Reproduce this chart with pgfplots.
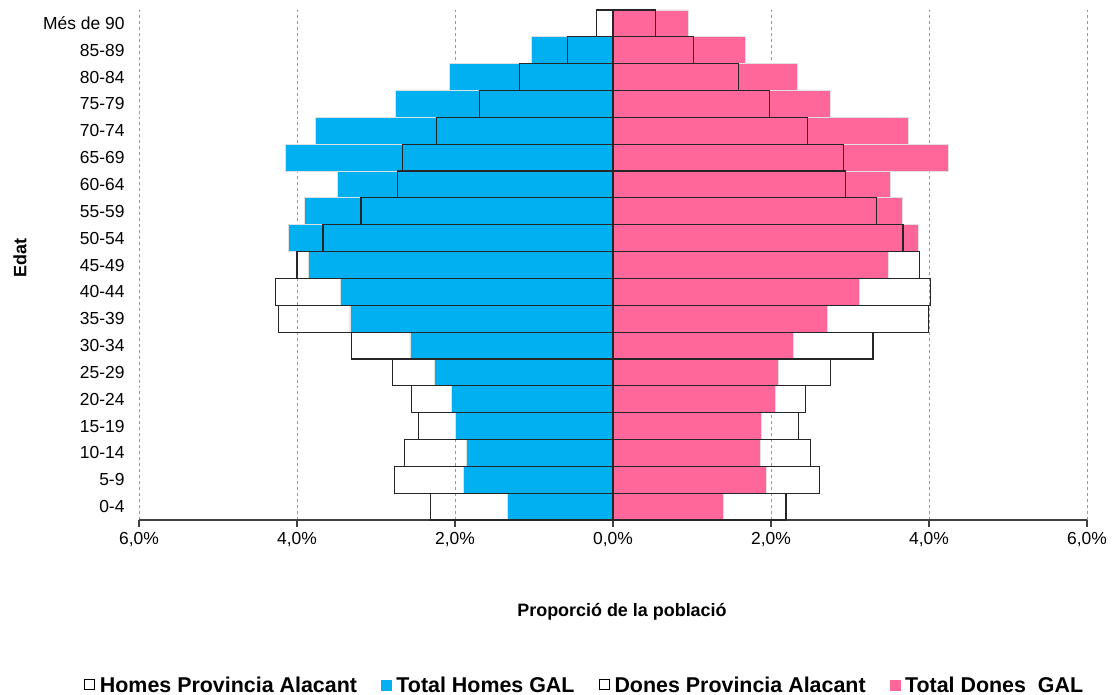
\documentclass[border=0pt]{standalone}
\usepackage{fontspec}
\setmainfont{Liberation Sans}
\usepackage{pgfplots}
\pgfplotsset{compat=1.18}
\usepackage{pgfplotstable}
\usetikzlibrary{calc}

\definecolor{homesgal}{HTML}{00B0F0}
\definecolor{donesgal}{HTML}{FF6699}

% y: 0 = 0-4 ... 18 = Més de 90; homes en negatiu
\pgfplotstableread{
y   hprov   hgal    dprov   dgal
0   -2.31   -1.34   2.19    1.40
1   -2.77   -1.89   2.61    1.94
2   -2.64   -1.86   2.50    1.86
3   -2.46   -1.99   2.35    1.88
4   -2.55   -2.05   2.44    2.05
5   -2.79   -2.26   2.75    2.09
6   -3.31   -2.57   3.29    2.28
7   -4.23   -3.33   3.99    2.72
8   -4.27   -3.45   4.02    3.12
9   -4.00   -3.85   3.88    3.48
10  -3.67   -4.11   3.67    3.86
11  -3.19   -3.90   3.34    3.66
12  -2.73   -3.49   2.94    3.51
13  -2.66   -4.15   2.92    4.24
14  -2.23   -3.77   2.46    3.74
15  -1.69   -2.75   1.98    2.75
16  -1.18   -2.07   1.59    2.33
17  -0.575  -1.03   1.02    1.67
18  -0.21   0       0.54    0.95
}\piramide

\begin{document}
\begin{tikzpicture}
\begin{axis}[
    scale only axis,
    width=948bp, height=510bp,
    xbar, bar width=1, bar shift=0pt,
    xmin=-6, xmax=6, ymin=-0.5, ymax=18.5,
    xtick={-6,-4,...,6},
    xticklabel={\pgfmathparse{abs(\tick)}\pgfmathprintnumber[fixed,fixed zerofill,precision=1,use comma]{\pgfmathresult}\%},
    /pgf/number format/assume math mode=true,
    ytick={0,...,18},
    yticklabels={0-4,5-9,10-14,15-19,20-24,25-29,30-34,35-39,40-44,45-49,50-54,55-59,60-64,65-69,70-74,75-79,80-84,85-89,{Més de 90}},
    separate axis lines,
    axis x line*=bottom,
    axis y line*=left,
    y axis line style={draw=none},
    ytick style={draw=none},
    x axis line style={black!75, line width=1.2bp},
    xtick style={black!75, line width=1.2bp},
    xtick align=outside,
    major tick length=7bp,
    xmajorgrids=true,
    grid style={dashed, black!40, line width=0.9bp},
    tick label style={font=\fontsize{17.5}{17.5}\selectfont},
    yticklabel style={xshift=-4bp},
    xticklabel style={yshift=-2bp},
    xlabel={Proporció de la població},
    xlabel style={font=\bfseries\fontsize{18}{18}\selectfont, at={(rel axis cs:0.5,0)}, anchor=center, yshift=-92bp, xshift=9bp},
    ylabel={Edat},
    ylabel style={font=\bfseries\fontsize{18}{18}\selectfont, at={(rel axis cs:-0.1255,0.514)}, anchor=center},
    legend columns=4,
    legend style={at={(0.47,-0.3235)}, anchor=center, draw=none,
        font=\bfseries\fontsize{21.5}{21.5}\selectfont,
        /tikz/every odd column/.append style={column sep=3bp},
        /tikz/every even column/.append style={column sep=22bp}},
    legend image code/.code={\draw[#1] (0bp,-5bp) rectangle (10bp,5bp);},
    legend cell align=left,
]
\addlegendimage{draw=black, fill=white, line width=1bp}
\addlegendentry{Homes Provincia Alacant}
\addlegendimage{draw=homesgal, fill=homesgal}
\addlegendentry{Total Homes GAL}
\addlegendimage{draw=black, fill=white, line width=1bp}
\addlegendentry{Dones Provincia Alacant}
\addlegendimage{draw=donesgal, fill=donesgal}
\addlegendentry{Total Dones\ \ GAL}

\addplot[forget plot, fill=homesgal, draw=black!12, line width=0.8bp] table[x=hgal, y=y] {\piramide};
\addplot[forget plot, fill=donesgal, draw=black!12, line width=0.8bp] table[x=dgal, y=y] {\piramide};
\addplot[forget plot, fill=none, draw=black!85, line width=1.2bp] table[x=hprov, y=y] {\piramide};
\addplot[forget plot, fill=none, draw=black!85, line width=1.2bp] table[x=dprov, y=y] {\piramide};
\coordinate (sw) at (rel axis cs:0,0);
\end{axis}
\pgfresetboundingbox
\path[use as bounding box] ($(sw)+(-139bp,-175bp)$) rectangle ++(1113bp,695bp);
\end{tikzpicture}
\end{document}
